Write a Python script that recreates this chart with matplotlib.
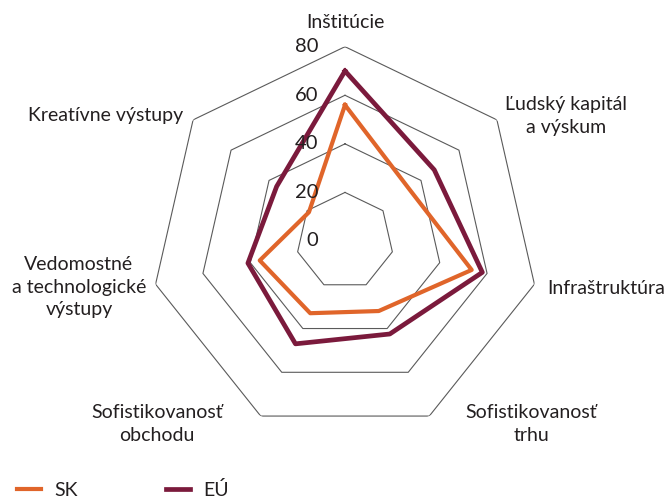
import numpy as np
import matplotlib.pyplot as plt

plt.rcParams['font.family'] = ['Lato', 'DejaVu Sans']

categories = ["Inštitúcie", "Ľudský kapitál\na výskum", "Infraštruktúra",
              "Sofistikovanosť\ntrhu", "Sofistikovanosť\nobchodu",
              "Vedomostné\na technologické\nvýstupy", "Kreatívne výstupy"]
sk = [56, 34, 53.5, 32, 33, 36, 19]
eu = [70, 47, 58, 42.5, 47, 41, 36]
rings = [20, 40, 60, 80]
tick_labels = [0, 20, 40, 60, 80]

col_sk = "#e0652a"
col_eu = "#7b1a3c"
txt = "#231f20"

n = len(categories)
ang = np.pi / 2 - np.arange(n) * 2 * np.pi / n
ang_c = np.append(ang, ang[0])

fig = plt.figure(figsize=(6.65, 5), dpi=100)
cx, cy, R = 345 / 665, 1 - 241 / 500, 194.3
ax = fig.add_axes([cx - R / 665, cy - R / 500, 2 * R / 665, 2 * R / 500], polar=True)
ax.set_ylim(0, 80)
ax.grid(False)
ax.spines['polar'].set_visible(False)
ax.set_xticks([])
ax.set_yticks([])
ax.patch.set_alpha(0)

for r in rings:
    ax.plot(ang_c, [r] * (n + 1), color="#5a5a5a", lw=0.8, zorder=1)

ax.plot(ang_c, sk + sk[:1], color=col_sk, lw=3.0, zorder=3, label="SK")
ax.plot(ang_c, eu + eu[:1], color=col_eu, lw=3.4, zorder=2, label="EÚ")

for v in tick_labels:
    ax.annotate(str(v), (np.pi / 2, v), xytext=(-27, 0), textcoords='offset pixels',
                ha='right', va='center', fontsize=14.5, color=txt, zorder=5)

# category labels (pixel positions)
lab_pos = [(345, 22, 'center'), (566, 116, 'center'), (547, 288, 'left'),
           (531, 424, 'center'), (157, 424, 'center'), (79, 287, 'center'),
           (183, 116, 'right')]
for lab, (x, y, ha) in zip(categories, lab_pos):
    fig.text(x / 665, 1 - y / 500, lab, ha=ha, va='center', fontsize=14,
             color=txt, linespacing=1.42, multialignment='center')

leg = fig.legend(loc='center left', bbox_to_anchor=(17 / 665, 1 - 490 / 500), ncol=2,
                 frameon=False, fontsize=14, handlelength=1.25, handletextpad=0.65,
                 columnspacing=4.55, borderpad=0, borderaxespad=0, labelcolor=txt)

fig.savefig("out.png", dpi=100)
